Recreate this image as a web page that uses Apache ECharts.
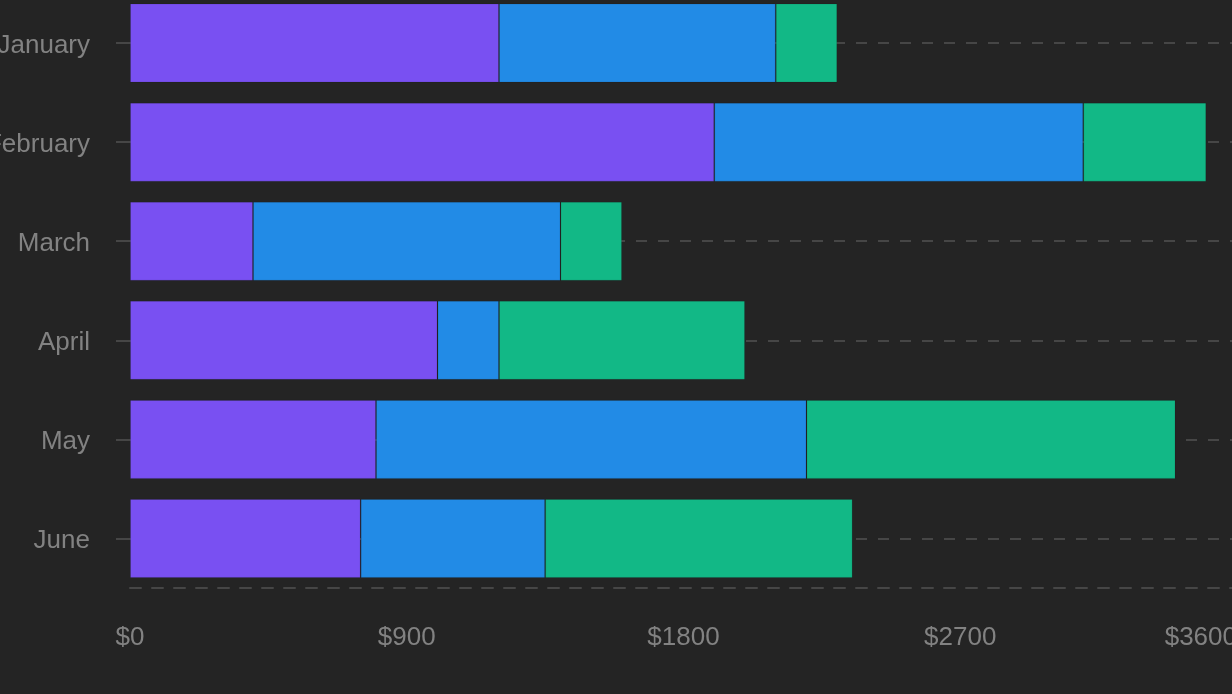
<!DOCTYPE html>
<html>
<head>
<meta charset="utf-8">
<script src="https://cdn.jsdelivr.net/npm/echarts@6/dist/echarts.min.js"></script>
<style>
  html, body { margin: 0; padding: 0; background: #242424; }
  #chart { width: 1232px; height: 694px; }
</style>
</head>
<body>
<div id="chart"></div>
<script>
const months = ['January', 'February', 'March', 'April', 'May', 'June'];
const smartphones = [1200, 1900, 400, 1000, 800, 750];
const laptops = [900, 1200, 1000, 200, 1400, 600];
const tablets = [200, 400, 200, 800, 1200, 1000];
const xTicks = [0, 900, 1800, 2700, 3600];

const FONT = '"Liberation Sans", Arial, sans-serif';
const GRID_COLOR = '#464646';

const chart = echarts.init(document.getElementById('chart'), null, { renderer: 'canvas' });

function barSeries(name, data, color, extra) {
  return Object.assign({
    name: name,
    type: 'bar',
    stack: 'total',
    data: data,
    barWidth: 79,
    itemStyle: { color: color, borderColor: 'rgba(0,0,0,0.1)', borderWidth: 1 },
    emphasis: { disabled: true },
    z: 3
  }, extra || {});
}

const option = {
  backgroundColor: '#242424',
  animation: false,
  grid: { left: 130, top: -6.5, width: 1107, height: 594.5, containLabel: false, outerBoundsMode: 'none' },
  xAxis: {
    type: 'value',
    min: xTicks[0],
    max: xTicks[xTicks.length - 1],
    interval: 900,
    axisLine: { show: true, lineStyle: { color: GRID_COLOR, width: 2, type: [11, 11] } },
    axisTick: { show: false },
    splitLine: { show: false },
    axisLabel: {
      color: '#828282',
      fontSize: 26,
      fontFamily: FONT,
      margin: 37,
      alignMaxLabel: 'right',
      formatter: v => '$' + v
    }
  },
  yAxis: {
    type: 'category',
    data: months,
    inverse: true,
    axisLine: { show: false },
    axisTick: { show: true, alignWithLabel: true, length: 14, lineStyle: { color: GRID_COLOR, width: 2 } },
    splitLine: { show: false },
    axisLabel: {
      color: '#828282', fontSize: 26, fontFamily: FONT, margin: 40,
      formatter: v => '{m|' + v + '}',
      rich: { m: { color: '#828282', fontSize: 26, fontFamily: FONT, padding: [5, 0, 0, 0] } }
    }
  },
  series: [
    barSeries('Smartphones', smartphones, '#7950f2', {
      markLine: {
        silent: true,
        symbol: 'none',
        z: 1,
        label: { show: false },
        lineStyle: { color: GRID_COLOR, width: 2, type: [11, 11] },
        data: months.map(m => ({ yAxis: m }))
      }
    }),
    barSeries('Laptops', laptops, '#228be6'),
    barSeries('Tablets', tablets, '#12b886')
  ]
};
chart.setOption(option);
</script>
</body>
</html>
